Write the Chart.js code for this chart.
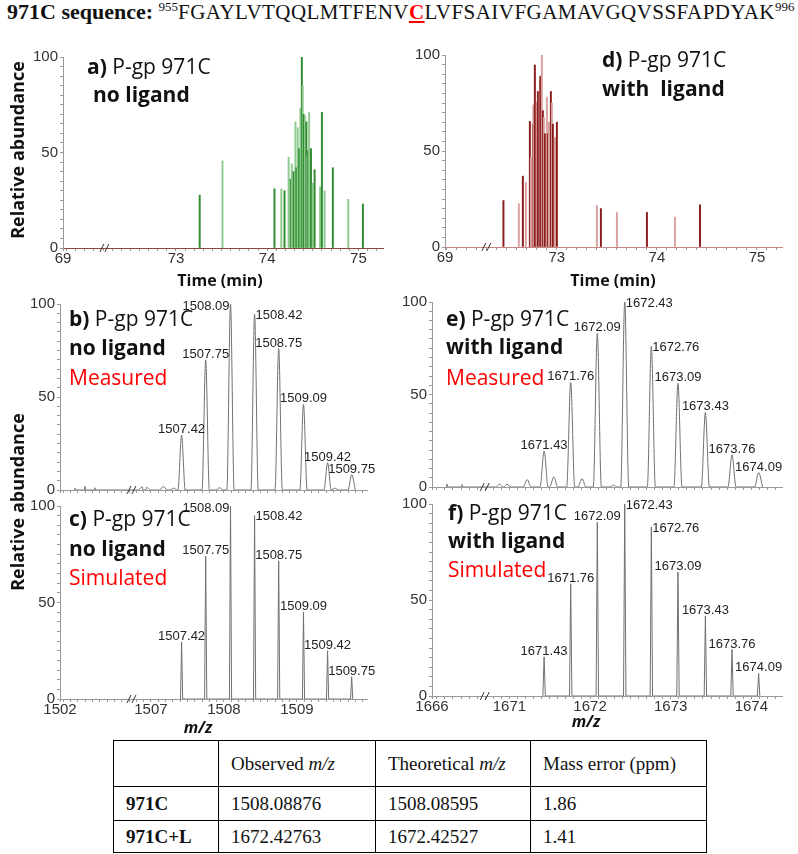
<!DOCTYPE html>
<html>
<head>
<meta charset="utf-8">
<script src="https://cdn.jsdelivr.net/npm/chart.js@4.4.1/dist/chart.umd.min.js"></script>
<style>
body { margin: 0; background: #fff; }
#page { position: relative; width: 798px; height: 854px; overflow: hidden; font-family: "Open Sans", sans-serif; color: #111; }
canvas { position: absolute; }
#title { position: absolute; left: 7px; top: 0; font-family: "Liberation Serif", serif; font-size: 21px; line-height: 24px; white-space: nowrap; }
#title .seq { letter-spacing: 0.45px; }
#title sup { font-size: 13px; line-height: 0; }
.ann { position: absolute; font-size: 21px; line-height: 25px; white-space: nowrap; }
.red { color: #ff0000; }
.ytitle { position: absolute; font-weight: 700; font-size: 18px; line-height: 20px; white-space: nowrap; transform: translate(-50%, -50%) rotate(-90deg); }
.xtitle { position: absolute; font-weight: 700; font-size: 16px; line-height: 18px; white-space: nowrap; transform: translate(-50%, -50%); }
#tbl { position: absolute; left: 113px; top: 740px; border-collapse: collapse; font-family: "Liberation Serif", serif; font-size: 19px; }
#tbl td { border: 1px solid #000; padding: 0 0 0 12px; }
</style>
</head>
<body>
<div id="page">
  <div id="title"><b style="font-size:22px">971C sequence: </b><sup>955</sup><span class="seq">FGAYLVTQQLMTFENV<b class="red" style="text-decoration:underline">C</b>LVFSAIVFGAMAVGQVSSFAPDYAK</span><sup>996</sup></div>

  <canvas id="chartA"></canvas>
  <canvas id="chartD"></canvas>
  <canvas id="chartB"></canvas>
  <canvas id="chartE"></canvas>
  <canvas id="chartC"></canvas>
  <canvas id="chartF"></canvas>

  <div class="ytitle" style="left:17px; top:150px">Relative abundance</div>
  <div class="ytitle" style="left:17px; top:502px">Relative abundance</div>
  <div class="xtitle" style="left:220px; top:280px">Time (min)</div>
  <div class="xtitle" style="left:613px; top:280px">Time (min)</div>
  <div class="xtitle" style="left:198px; top:727px"><i>m/z</i></div>
  <div class="xtitle" style="left:586px; top:721px"><i>m/z</i></div>

  <div class="ann" style="left:87px; top:54px"><b>a)</b> P-gp 971C</div>
  <div class="ann" style="left:93px; top:82px"><b>no ligand</b></div>
  <div class="ann" style="left:602px; top:47px"><b>d)</b> P-gp 971C</div>
  <div class="ann" style="left:602px; top:76px"><b>with&nbsp; ligand</b></div>

  <div class="ann" style="left:69px; top:306px"><b>b)</b> P-gp 971C</div>
  <div class="ann" style="left:69px; top:335px"><b>no ligand</b></div>
  <div class="ann red" style="left:69px; top:365px">Measured</div>
  <div class="ann" style="left:446px; top:306px"><b>e)</b> P-gp 971C</div>
  <div class="ann" style="left:446px; top:334px"><b>with ligand</b></div>
  <div class="ann red" style="left:446px; top:365px">Measured</div>

  <div class="ann" style="left:69px; top:506px"><b>c)</b> P-gp 971C</div>
  <div class="ann" style="left:69px; top:536px"><b>no ligand</b></div>
  <div class="ann red" style="left:69px; top:565px">Simulated</div>
  <div class="ann" style="left:448px; top:500px"><b>f)</b> P-gp 971C</div>
  <div class="ann" style="left:448px; top:528px"><b>with ligand</b></div>
  <div class="ann red" style="left:448px; top:557px">Simulated</div>

  <table id="tbl"></table>
</div>

<script>
// ---- chromatograms: retention time (min) and relative abundance ----
const timeNoLig = [73.26, 73.51, 74.08, 74.155, 74.19, 74.235, 74.257, 74.27, 74.29, 74.31, 74.32, 74.335, 74.35, 74.365, 74.38, 74.39, 74.40, 74.415, 74.43, 74.44, 74.45, 74.46, 74.48, 74.50, 74.52, 74.58, 74.60, 74.63, 74.72, 74.89, 75.05];
const abundNoLig = [27.7, 45.6, 31, 31, 30, 47.5, 36, 44, 40, 66, 42, 63, 52, 73, 100, 85, 70, 69, 66, 48, 51, 71, 52, 34, 41, 32, 71, 30, 42, 25.5, 23];
const timeLig = [72.466, 72.62, 72.66, 72.69, 72.73, 72.74, 72.76, 72.765, 72.78, 72.80, 72.81, 72.83, 72.835, 72.85, 72.86, 72.87, 72.88, 72.90, 72.91, 72.92, 72.94, 72.95, 72.96, 72.98, 73.00, 73.40, 73.44, 73.60, 73.90, 74.18, 74.43];
const abundLig = [24.2, 22.5, 36.9, 33.7, 65.4, 46.7, 64, 74, 94.8, 75.4, 81, 87, 89, 100, 71, 67.5, 59, 78, 59, 65, 81, 75, 64, 57, 65, 21.6, 20, 18, 18, 15.6, 22];
const timeTicks = [69, 73, 74, 75];

// ---- isotope envelopes (m/z, relative abundance) ----
const mzNoLig = [1507.42, 1507.75, 1508.09, 1508.42, 1508.75, 1509.09, 1509.42, 1509.75];
const measNoLig = [29.5, 70, 100, 94.5, 76, 46, 14.7, 8.3];
const simNoLig = [29.6, 74, 100, 95, 71.6, 45, 25, 11.5];
const noiseMzNoLig = [1502.99, 1503.65, 1504.3, 1506.88, 1506.94, 1507.17, 1507.31, 1507.94, 1509.52];
const noiseNoLig = [1, 2, 1.2, 1.8, 1.5, 2, 1, 1.2, 1];
const mzTicksNoLig = [1502, 1507, 1508, 1509];

const mzLig = [1671.43, 1671.76, 1672.09, 1672.43, 1672.76, 1673.09, 1673.43, 1673.76, 1674.09];
const measLig = [19.5, 56.5, 83, 100, 76, 56, 40.3, 17.4, 7.8];
const simLig = [20.4, 58.5, 90.5, 100, 88, 64.5, 41.7, 24.2, 11.8];
const noiseMzLig = [1667.33, 1668.65, 1670.88, 1670.97, 1671.22, 1671.55, 1671.90, 1672.29];
const noiseLig = [1.6, 1.4, 1.5, 1.5, 4, 5.5, 4.5, 1];
const mzTicksLig = [1666, 1671, 1672, 1673, 1674];

const abundTicks = [0, 50, 100];

// label placement next to each peak: c = above, l = left, r = right
const lblNoLig = ['c', 'c', 'l', 'r', 'c', 'c', 'c', 'c'];
const lblLig = ['c', 'c', 'c', 'r', 'r', 'c', 'c', 'c', 'c'];

// ---- table ----
const tableHead = ['', 'Observed <i>m/z</i>', 'Theoretical <i>m/z</i>', 'Mass error (ppm)'];
const tableNames = ['971C', '971C+L'];
const observedMz = ['1508.08876', '1672.42763'];
const theoreticalMz = ['1508.08595', '1672.42527'];
const massError = ['1.86', '1.41'];

Chart.defaults.font.family = '"Liberation Sans", Arial, sans-serif';

// linear scale with a compressed stretch before brk.at (broken axis)
class BrokenScale extends Chart.LinearScale {
  toAxisUnits(v) {
    const b = this.options.brk;
    if (!b || v >= b.at) return v;
    return b.at - (b.at - v) * b.squeeze;
  }
  fromAxisUnits(u) {
    const b = this.options.brk;
    if (!b || u >= b.at) return u;
    return b.at - (b.at - u) / b.squeeze;
  }
  configure() {
    super.configure();
    this._startValue = this.toAxisUnits(this.min);
    this._endValue = this.toAxisUnits(this.max);
    this._valueRange = this._endValue - this._startValue;
  }
  getPixelForValue(value) {
    if (value === null || value === undefined) return NaN;
    return this.getPixelForDecimal((this.toAxisUnits(value) - this._startValue) / this._valueRange);
  }
  getValueForPixel(pixel) {
    return this.fromAxisUnits(this._startValue + this.getDecimalForPixel(pixel) * this._valueRange);
  }
}
BrokenScale.id = 'broken';
BrokenScale.defaults = Chart.LinearScale.defaults;
Chart.register(BrokenScale);

const YW = 45, PT = 10, PR = 12;

function place(canvas, g, xh) {
  canvas.width = (g.x1 - g.x0) + YW + PR;
  canvas.height = (g.y0 - g.yTop) + PT + xh;
  canvas.style.left = (g.x0 - YW) + 'px';
  canvas.style.top = (g.yTop - PT) + 'px';
}

function isLabel(v, labels) {
  return labels.find(l => Math.abs(l - v) < 1e-6);
}

function abundAxis() {
  return {
    type: 'linear', min: 0, max: 100,
    afterBuildTicks: s => {
      const t = [];
      for (let v = 0; v <= 100; v += 5) t.push({ value: v });
      s.ticks = t;
    },
    afterFit: s => { s.width = YW; },
    ticks: {
      autoSkip: false, padding: 2, color: '#333', font: { size: 15 },
      callback: v => abundTicks.includes(v) ? String(v) : ''
    },
    grid: { drawOnChartArea: false, tickLength: 3, color: '#999' },
    border: { color: '#999' }
  };
}

function brokenAxis(min, max, brk, labels, xh, showLabels, axisColor) {
  return {
    type: 'broken', min: min, max: max, brk: brk, offset: false,
    afterBuildTicks: s => {
      const vals = [min];
      const u0 = s.toAxisUnits(min), u1 = s.toAxisUnits(max);
      for (let k = Math.ceil(u0 * 10 - 1e-6); k / 10 <= u1 + 1e-9; k++) {
        const v = s.fromAxisUnits(k / 10);
        if (v > min + 1e-6) vals.push(v);
      }
      s.ticks = vals.map(v => ({ value: v }));
    },
    afterFit: s => { s.height = xh; },
    ticks: {
      autoSkip: false, maxRotation: 0, padding: -1, color: '#333', font: { size: 15 },
      callback: v => {
        if (!showLabels) return '';
        const l = isLabel(v, labels);
        return l === undefined ? '' : String(l);
      }
    },
    grid: { drawOnChartArea: false, tickLength: 3, color: '#999', offset: false },
    border: { color: axisColor }
  };
}

const breakMarks = {
  id: 'breakMarks',
  afterDraw(chart) {
    const xs = chart.scales.x;
    const brk = xs.options.brk;
    const px = xs.getPixelForValue(brk.at), py = xs.top;
    const ctx = chart.ctx;
    ctx.save();
    ctx.strokeStyle = '#333';
    ctx.lineWidth = 1;
    [-3, 2].forEach(dx => {
      ctx.beginPath();
      ctx.moveTo(px + dx - 2, py + 4);
      ctx.lineTo(px + dx + 2, py - 4);
      ctx.stroke();
    });
    ctx.restore();
  }
};

const peakLabels = {
  id: 'peakLabels',
  afterDatasetsDraw(chart, args, opts) {
    if (!opts.mz) return;
    const ctx = chart.ctx, xs = chart.scales.x, ys = chart.scales.y;
    ctx.save();
    ctx.font = '13px "Liberation Sans", Arial, sans-serif';
    ctx.fillStyle = '#222';
    opts.mz.forEach((m, i) => {
      const px = xs.getPixelForValue(m), py = ys.getPixelForValue(opts.h[i]);
      const txt = m.toFixed(2);
      const pos = opts.pos[i];
      if (pos === 'l') {
        ctx.textAlign = 'right'; ctx.textBaseline = 'middle';
        ctx.fillText(txt, px - 1, py + 2);
      } else if (pos === 'r') {
        ctx.textAlign = 'left'; ctx.textBaseline = 'middle';
        ctx.fillText(txt, px + 1, py + 1);
      } else {
        ctx.textAlign = 'center'; ctx.textBaseline = 'alphabetic';
        ctx.fillText(txt, px, py - 2);
      }
    });
    ctx.restore();
  }
};

function chromChart(id, g, times, abund, dark, light, range, brk, axisColor) {
  const cv = document.getElementById(id);
  place(cv, g, 22);
  return new Chart(cv, {
    type: 'bar',
    data: {
      datasets: [{
        data: times.map((t, i) => ({ x: t, y: abund[i] })),
        backgroundColor: times.map((t, i) => i % 2 ? light : dark),
        barThickness: 1.3
      }]
    },
    options: {
      responsive: false, animation: false, devicePixelRatio: 1,
      layout: { padding: { top: PT, right: PR, left: 0, bottom: 0 } },
      plugins: { legend: { display: false }, tooltip: { enabled: false } },
      scales: {
        x: brokenAxis(range[0], range[1], brk, timeTicks, 22, true, axisColor),
        y: abundAxis()
      }
    },
    plugins: [breakMarks]
  });
}

// peak list -> line points (narrow peaks on a zero baseline)
function trace(mz, h, noiseMz, noise, w) {
  const pts = [];
  mz.forEach((m, i) => pts.push({ x: m - w, y: 0 }, { x: m, y: h[i] }, { x: m + w, y: 0 }));
  noiseMz.forEach((m, i) => pts.push({ x: m - 0.05, y: 0 }, { x: m, y: noise[i] }, { x: m + 0.05, y: 0 }));
  return pts.sort((a, b) => a.x - b.x);
}

function spectrumChart(id, g, pts, smooth, mz, h, pos, range, brk, tickLabels, showLabels) {
  const cv = document.getElementById(id);
  const xh = showLabels ? 22 : 6;
  place(cv, g, xh);
  return new Chart(cv, {
    type: 'line',
    data: {
      datasets: [{
        data: pts,
        borderColor: '#707070', borderWidth: 1, pointRadius: 0,
        cubicInterpolationMode: smooth ? 'monotone' : 'default', tension: 0
      }]
    },
    options: {
      responsive: false, animation: false, devicePixelRatio: 1,
      layout: { padding: { top: PT, right: PR, left: 0, bottom: 0 } },
      plugins: {
        legend: { display: false }, tooltip: { enabled: false },
        peakLabels: { mz: mz, h: h, pos: pos }
      },
      scales: {
        x: brokenAxis(range[0], range[1], brk, tickLabels, xh, showLabels, '#999'),
        y: abundAxis()
      }
    },
    plugins: [breakMarks, peakLabels]
  });
}

const gA = { x0: 63, x1: 383, yTop: 56, y0: 248 };
const gD = { x0: 445, x1: 782, yTop: 54, y0: 247 };
const gB = { x0: 60, x1: 367, yTop: 303, y0: 495 };
const gE = { x0: 432, x1: 782, yTop: 301, y0: 492 };
const gC = { x0: 60, x1: 367, yTop: 505, y0: 699 };
const gF = { x0: 432, x1: 782, yTop: 503, y0: 696 };

chromChart('chartA', gA, timeNoLig, abundNoLig, '#2e8b2e', '#8fca8f', [69, 75.27], { at: 72.22, squeeze: 0.1425 }, '#8b4a36');
chromChart('chartD', gD, timeLig, abundLig, '#8b1c1c', '#d9a0a0', [69, 75.25], { at: 72.30, squeeze: 0.1267 }, '#c98484');

const brkNoLig = { at: 1506.74, squeeze: 0.208 };
const brkLig = { at: 1670.70, squeeze: 0.1404 };

spectrumChart('chartB', gB, trace(mzNoLig, measNoLig, noiseMzNoLig, noiseNoLig, 0.05), true,
  mzNoLig, measNoLig, lblNoLig, [1502, 1509.96], brkNoLig, mzTicksNoLig, false);
spectrumChart('chartC', gC, trace(mzNoLig, simNoLig, [], [], 0.015), false,
  mzNoLig, simNoLig, lblNoLig, [1502, 1509.96], brkNoLig, mzTicksNoLig, true);
spectrumChart('chartE', gE, trace(mzLig, measLig, noiseMzLig, noiseLig, 0.05), true,
  mzLig, measLig, lblLig, [1666, 1674.38], brkLig, mzTicksLig, false);
spectrumChart('chartF', gF, trace(mzLig, simLig, [], [], 0.015), false,
  mzLig, simLig, lblLig, [1666, 1674.38], brkLig, mzTicksLig, true);

// table below the spectra
const colWidths = [105, 157, 155, 176];
const rowHeights = [46, 34, 32];
const tbl = document.getElementById('tbl');
const rows = [tableHead].concat(tableNames.map((n, i) => ['<b>' + n + '</b>', observedMz[i], theoreticalMz[i], massError[i]]));
tbl.innerHTML = rows.map((r, ri) =>
  '<tr style="height:' + rowHeights[ri] + 'px">' +
  r.map((c, ci) => '<td style="width:' + (colWidths[ci] - 13) + 'px">' + c + '</td>').join('') +
  '</tr>').join('');
</script>
</body>
</html>
